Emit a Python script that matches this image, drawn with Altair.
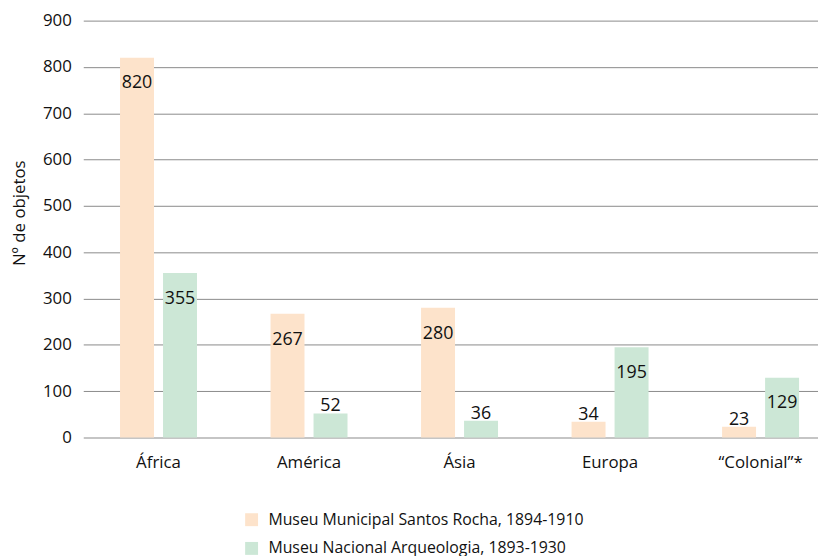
import altair as alt
import pandas as pd

categories = ["África", "América", "Ásia", "Europa", "“Colonial”*"]
series = ["Museu Municipal Santos Rocha, 1894-1910", "Museu Nacional Arqueologia, 1893-1930"]
santos_rocha = [820, 267, 280, 34, 23]
nacional = [355, 52, 36, 195, 129]
colors = ["#FDE3CB", "#CCE7D6"]

rows = []
for i, c in enumerate(categories):
    rows.append({"cat": c, "serie": series[0], "v": santos_rocha[i]})
    rows.append({"cat": c, "serie": series[1], "v": nacional[i]})
df = pd.DataFrame(rows)

FONT = "Open Sans"
TXT = "#111111"

x_enc = alt.X("cat:N", sort=categories, title=None,
              scale=alt.Scale(range=[0, 760], paddingInner=0, paddingOuter=0),
              axis=alt.Axis(labelAngle=0, ticks=False, domain=False, grid=False,
                            labelFontSize=17, labelColor=TXT, labelPadding=17,
                            labelFont=FONT))
xo_enc = alt.XOffset("serie:N", sort=series,
                     scale=alt.Scale(paddingInner=0.21, paddingOuter=0.855))
y_enc = alt.Y("v:Q", title="Nº de objetos",
              scale=alt.Scale(domain=[0, 900], nice=False),
              axis=alt.Axis(values=list(range(0, 1000, 100)), ticks=False, domain=False,
                            grid=True, gridColor="#8a8a8a", gridWidth=1,
                            labelFontSize=17, labelColor=TXT, labelPadding=12,
                            labelFont=FONT, titleFont=FONT, titleFontSize=17,
                            titleFontWeight="normal", titleColor=TXT,
                            titleAngle=270, titleAlign="center", titleBaseline="middle",
                            titleX=-64, titleY=194))

base = alt.Chart(df)

bars = base.mark_bar().encode(
    x=x_enc, xOffset=xo_enc, y=y_enc,
    color=alt.Color("serie:N", sort=series, title=None,
                    scale=alt.Scale(domain=series, range=colors),
                    legend=alt.Legend(orient="none", legendX=162, legendY=496,
                                      symbolType="square", symbolSize=170,
                                      symbolStrokeWidth=0, labelFontSize=16,
                                      labelFont=FONT, labelColor=TXT,
                                      rowPadding=13, labelLimit=500, symbolOffset=0,
                                      labelOffset=9)),
)

inside = base.transform_filter("datum.v >= 100").mark_text(
    baseline="middle", dy=26, fontSize=18, font=FONT, color=TXT
).encode(x=x_enc, xOffset=xo_enc, y=y_enc, text="v:Q")

above = base.transform_filter("datum.v < 100").mark_text(
    baseline="bottom", dy=2, fontSize=18, font=FONT, color=TXT
).encode(x=x_enc, xOffset=xo_enc, y=y_enc, text="v:Q")

chart = (bars + inside + above).properties(
    width=742, height=421,
    autosize="none",
    padding={"left": 76, "top": 10, "right": 0, "bottom": 126},
).configure_view(stroke=None)

chart.save("out.html", embed_options={"renderer": "svg", "actions": False})
